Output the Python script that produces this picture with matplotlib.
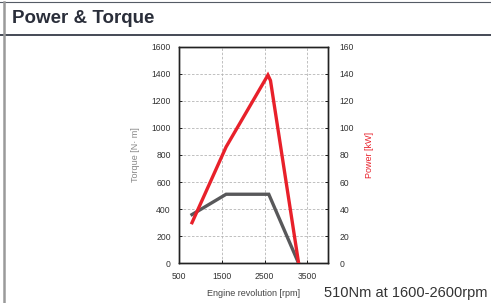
import matplotlib
matplotlib.use('Agg')
import matplotlib.pyplot as plt
from matplotlib.lines import Line2D

plt.rcParams['font.family'] = ['Liberation Sans', 'DejaVu Sans']

# data
torque_rpm = [800, 1600, 2600, 3300]
torque_nm = [360, 510, 510, 0]
power_rpm = [800, 1600, 2580, 2640, 3300]
power_kw = [30, 86, 139, 135, 0]

x_ticks = [500, 1500, 2500, 3500]
torque_ticks = list(range(0, 1601, 200))
power_ticks = list(range(0, 161, 20))

RED = '#e8202a'
GRAY = '#58585a'

fig = plt.figure(figsize=(4.91, 3.03), dpi=100)

# panel frame
fig.add_artist(Line2D([0.0, 1.0], [0.995, 0.995], color='#555b66', lw=0.8))
fig.add_artist(Line2D([0.0, 1.0], [0.885, 0.885], color='#444a55', lw=1.4))
fig.add_artist(Line2D([0.009, 0.009], [0.0, 0.995], color='#9a9a9a', lw=1.8))
fig.text(0.025, 0.94, 'Power & Torque', fontsize=13.5, fontweight='bold',
         color='#2a2e3a', va='center', ha='left')

ax = fig.add_axes([0.365, 0.131, 0.304, 0.715])
ax.plot(torque_rpm, torque_nm, color=GRAY, lw=2.4, solid_joinstyle='miter', zorder=3)
ax.set_xlim(500, 4000)
ax.set_ylim(0, 1600)
ax.set_xticks(x_ticks)
ax.set_yticks(torque_ticks)
ax.grid(True, color='#b5b5b5', ls=(0, (3, 2)), lw=0.6)
ax.tick_params(direction='in', labelsize=6.2, labelcolor='#333333', length=2.5, width=0.6, pad=6)
ax.set_ylabel('Torque [N· m]', fontsize=6.5, color='#888888', labelpad=8)
ax.set_xlabel('Engine revolution [rpm]', fontsize=6.5, color='#444444', labelpad=6)
for s in ax.spines.values():
    s.set_linewidth(1.0)
    s.set_color('#222222')

ax2 = ax.twinx()
ax2.plot(power_rpm, power_kw, color=RED, lw=2.4, solid_joinstyle='miter', zorder=4)
ax2.set_ylim(0, 160)
ax2.set_yticks(power_ticks)
ax2.tick_params(direction='in', labelsize=6.2, labelcolor='#333333', length=2.5, width=0.6, pad=8)
ax2.set_ylabel('Power [kW]', fontsize=6.5, color=RED, rotation=90, labelpad=8)
for s in ax2.spines.values():
    s.set_linewidth(1.0)
    s.set_color('#222222')

fig.text(0.66, 0.033, '510Nm at 1600-2600rpm', fontsize=10.5, color='#333333',
         ha='left', va='center')

fig.savefig('out.png', dpi=100)
